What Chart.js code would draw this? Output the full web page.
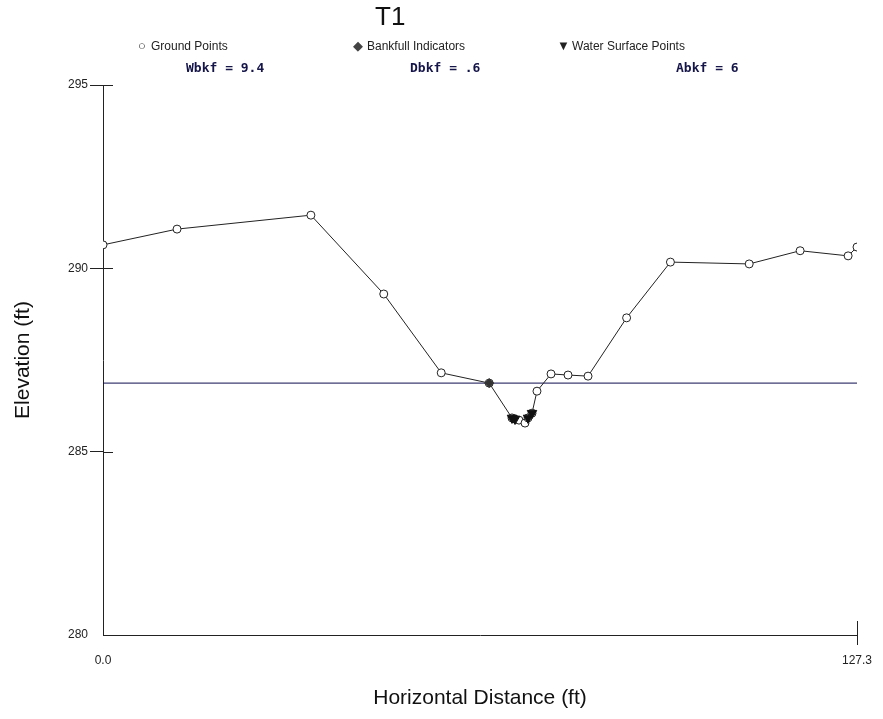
<!DOCTYPE html>
<html>
<head>
<meta charset="utf-8">
<title>T1</title>
<script src="https://cdn.jsdelivr.net/npm/chart.js@4.4.1/dist/chart.umd.min.js"></script>
<style>
  body { margin: 0; background: #fff; }
  #wrap { position: relative; width: 883px; height: 719px; }
  #chart { position: absolute; left: 0; top: 0; }
  .txt { position: absolute; white-space: nowrap; font-family: "Liberation Sans", Arial, sans-serif; color: #222; }
  .title { font-size: 26px; color: #111; }
  .leg { font-size: 12px; line-height: 14px; }
  .sym { display: inline-block; width: 12px; margin-right: 3px; font-size: 13px; text-align: center; }
  .stat { font-family: "DejaVu Sans Mono", monospace; font-weight: bold; font-size: 13px; color: #15154a; }
</style>
</head>
<body>
<div id="wrap">
  <canvas id="chart" width="883" height="719"></canvas>
  <div class="txt title" style="left:375px; top:1px;">T1</div>
  <div class="txt leg" style="left:136px; top:39px;"><span class="sym">&#9675;</span>Ground Points</div>
  <div class="txt leg" style="left:352px; top:39px;"><span class="sym" style="color:#444">&#9670;</span>Bankfull Indicators</div>
  <div class="txt leg" style="left:557px; top:39px;"><span class="sym">&#9660;</span>Water Surface Points</div>
  <div class="txt stat" style="left:186px; top:60px;">Wbkf = 9.4</div>
  <div class="txt stat" style="left:410px; top:60px;">Dbkf = .6</div>
  <div class="txt stat" style="left:676px; top:60px;">Abkf = 6</div>
</div>
<script>
// ground survey points (horizontal distance, elevation)
const groundX = [0, 12.5, 35.1, 47.4, 57.1, 65.2, 69.05, 69.56, 70.23, 71.25, 71.76, 72.43,
  73.27, 75.64, 78.51, 81.89, 88.4, 95.8, 109.1, 117.7, 125.8, 127.3];
const groundY = [290.64, 291.07, 291.45, 289.30, 287.15, 286.87, 285.92, 285.89, 285.86, 285.78, 285.92, 286.05,
  286.65, 287.12, 287.09, 287.06, 288.65, 290.17, 290.12, 290.48, 290.34, 290.58];

const bankfullX = [65.2];
const bankfullY = [286.87];

const waterX = [69.05, 69.56, 71.76, 72.43];
const waterY = [285.92, 285.89, 285.92, 286.05];

const bkfElevation = 286.87;
const xTicks = [0, 127.3];
const yTicks = [280, 285, 290, 295];

const toPoints = (xs, ys) => xs.map((x, i) => ({ x: x, y: ys[i] }));
const axisFont = { family: "'Liberation Sans', Arial, sans-serif", size: 12 };
const titleFont = { family: "'Liberation Sans', Arial, sans-serif", size: 21 };

// tick marks in the reference cross the axis line, chart.js only draws the outer half
const innerTicks = {
  id: "innerTicks",
  afterDraw(chart) {
    const { ctx, chartArea, scales } = chart;
    ctx.save();
    ctx.strokeStyle = "#222";
    ctx.lineWidth = 1;
    ctx.beginPath();
    yTicks.slice(1).forEach((v) => {
      const py = Math.round(scales.y.getPixelForValue(v)) + 0.5;
      ctx.moveTo(chartArea.left, py);
      ctx.lineTo(chartArea.left + 10, py);
    });
    const px = Math.round(scales.x.getPixelForValue(xTicks[1])) + 0.5;
    ctx.moveTo(px, chartArea.bottom);
    ctx.lineTo(px, chartArea.bottom - 14);
    ctx.stroke();
    ctx.restore();
  },
};

new Chart(document.getElementById("chart"), {
  type: "scatter",
  data: {
    datasets: [
      {
        label: "Water Surface Points",
        data: toPoints(waterX, waterY),
        pointStyle: "triangle",
        rotation: 180,
        pointRadius: 5.5,
        backgroundColor: "#111",
        borderColor: "#111",
        order: 0,
      },
      {
        label: "Bankfull Indicators",
        data: toPoints(bankfullX, bankfullY),
        pointStyle: "rectRot",
        pointRadius: 4.5,
        backgroundColor: "#333",
        borderColor: "#333",
        order: 1,
      },
      {
        label: "Ground Points",
        data: toPoints(groundX, groundY),
        showLine: true,
        borderColor: "#222",
        borderWidth: 1,
        pointStyle: "circle",
        pointRadius: 4,
        pointBackgroundColor: "#fff",
        pointBorderColor: "#222",
        pointBorderWidth: 1,
        order: 2,
      },
      {
        label: "Bankfull",
        data: toPoints([xTicks[0], xTicks[1]], [bkfElevation, bkfElevation]),
        showLine: true,
        borderColor: "#0d0d50",
        borderWidth: 1,
        pointRadius: 0,
        order: 3,
      },
    ],
  },
  options: {
    responsive: false,
    animation: false,
    devicePixelRatio: 1,
    layout: { padding: { top: 85, right: 26, bottom: 0, left: 0 } },
    plugins: {
      legend: { display: false },
      title: { display: false },
      tooltip: { enabled: false },
    },
    scales: {
      x: {
        type: "linear",
        min: xTicks[0],
        max: xTicks[1],
        afterBuildTicks: (s) => { s.ticks = xTicks.map((v) => ({ value: v })); },
        afterFit: (s) => { s.height = 84; },
        ticks: {
          font: axisFont,
          color: "#222",
          padding: 8,
          maxRotation: 0,
          callback: (v) => Number(v).toFixed(1),
        },
        grid: {
          drawOnChartArea: false,
          tickLength: 10,
          color: (c) => (c.index === 0 ? "rgba(0,0,0,0)" : "#222"),
        },
        border: { color: "#222", width: 1 },
        title: {
          display: true,
          text: "Horizontal Distance (ft)",
          font: titleFont,
          color: "#111",
          padding: { top: 0, bottom: 8 },
        },
      },
      y: {
        min: yTicks[0],
        max: yTicks[yTicks.length - 1],
        afterBuildTicks: (s) => { s.ticks = yTicks.map((v) => ({ value: v })); },
        afterFit: (s) => { s.width = 103; },
        ticks: { font: axisFont, color: "#222", padding: 2 },
        grid: {
          drawOnChartArea: false,
          tickLength: 13,
          color: (c) => (c.tick && c.tick.value === yTicks[0] ? "rgba(0,0,0,0)" : "#222"),
        },
        border: { color: "#222", width: 1 },
        title: {
          display: true,
          text: "Elevation (ft)",
          font: titleFont,
          color: "#111",
          padding: { top: 11, bottom: 0 },
        },
      },
    },
  },
  plugins: [innerTicks],
});
</script>
</body>
</html>
